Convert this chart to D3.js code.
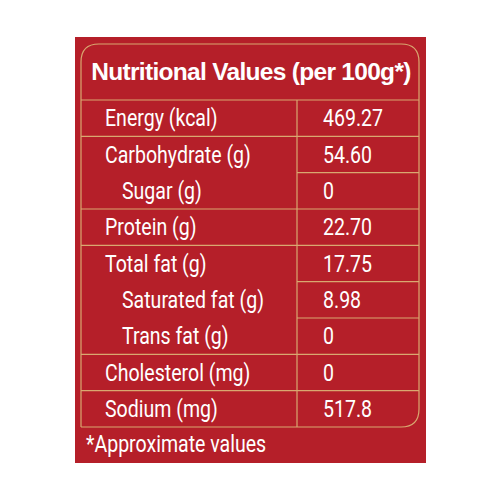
<!DOCTYPE html><html><head><script src="https://cdn.jsdelivr.net/npm/d3@7"></script>
<style>body{margin:0;background:#fff}</style></head><body><svg id="c" width="500" height="500"></svg>
<script>
const title = "Nutritional Values (per 100g*)";
const labels = ["Energy (kcal)","Carbohydrate (g)","Sugar (g)","Protein (g)","Total fat (g)","Saturated fat (g)","Trans fat (g)","Cholesterol (mg)","Sodium (mg)"];
const values = ["469.27","54.60","0","22.70","17.75","8.98","0","0","517.8"];
const indent = [0,0,1,0,0,1,1,0,0];
const footnote = "*Approximate values";
const svg = d3.select("#c");
const red="#b51f29", line="#d9a870";
const font="Roboto, sans-serif";
const sx=0.85;
svg.append("rect").attr("x",75).attr("y",37).attr("width",351).attr("height",426).attr("fill",red);
const x0=81,x1=419,yTop=44,yHead=100,yBot=427,xDiv=297,r=18;
const y=d3.scaleBand().domain(d3.range(labels.length)).range([yHead,yBot]);
svg.append("path").attr("fill","none").attr("stroke",line).attr("stroke-width",1.2)
 .attr("d",`M${x0},${yBot}V${yTop+r}Q${x0},${yTop} ${x0+r},${yTop}H${x1-r}Q${x1},${yTop} ${x1},${yTop+r}V${yBot-r}Q${x1},${yBot} ${x1-r},${yBot}H${x0}`);
svg.append("line").attr("x1",x0).attr("x2",x1).attr("y1",yHead).attr("y2",yHead).attr("stroke",line).attr("stroke-width",1.2);
svg.append("line").attr("x1",xDiv).attr("x2",xDiv).attr("y1",yHead).attr("y2",yBot).attr("stroke",line).attr("stroke-width",1.2);
labels.forEach((l,i)=>{ if(i===0)return;
  const xs = indent[i]? xDiv : x0;
  svg.append("line").attr("x1",xs).attr("x2",x1).attr("y1",y(i)).attr("y2",y(i)).attr("stroke",line).attr("stroke-width",1.2);
});
function txt(x,yy,s,size,bold){
  svg.append("text").attr("transform",`translate(${x},${yy}) scale(${sx},1)`).attr("fill","#fff")
   .attr("font-family",font).attr("font-size",size).attr("font-weight",bold?"bold":"normal").text(s);
}
svg.append("text").attr("x",251).attr("y",80).attr("text-anchor","middle").attr("fill","#fff")
 .attr("font-family","'Liberation Sans', Arial, sans-serif").attr("font-weight","bold").attr("font-size",24.5).attr("letter-spacing",-0.7).text(title);
labels.forEach((d,i)=>txt(indent[i]?122:105, y(i)+y.bandwidth()/2+8, d, 23));
values.forEach((d,i)=>txt(323, y(i)+y.bandwidth()/2+8, d, 23));
txt(86,452,footnote,23);
</script></body></html>
